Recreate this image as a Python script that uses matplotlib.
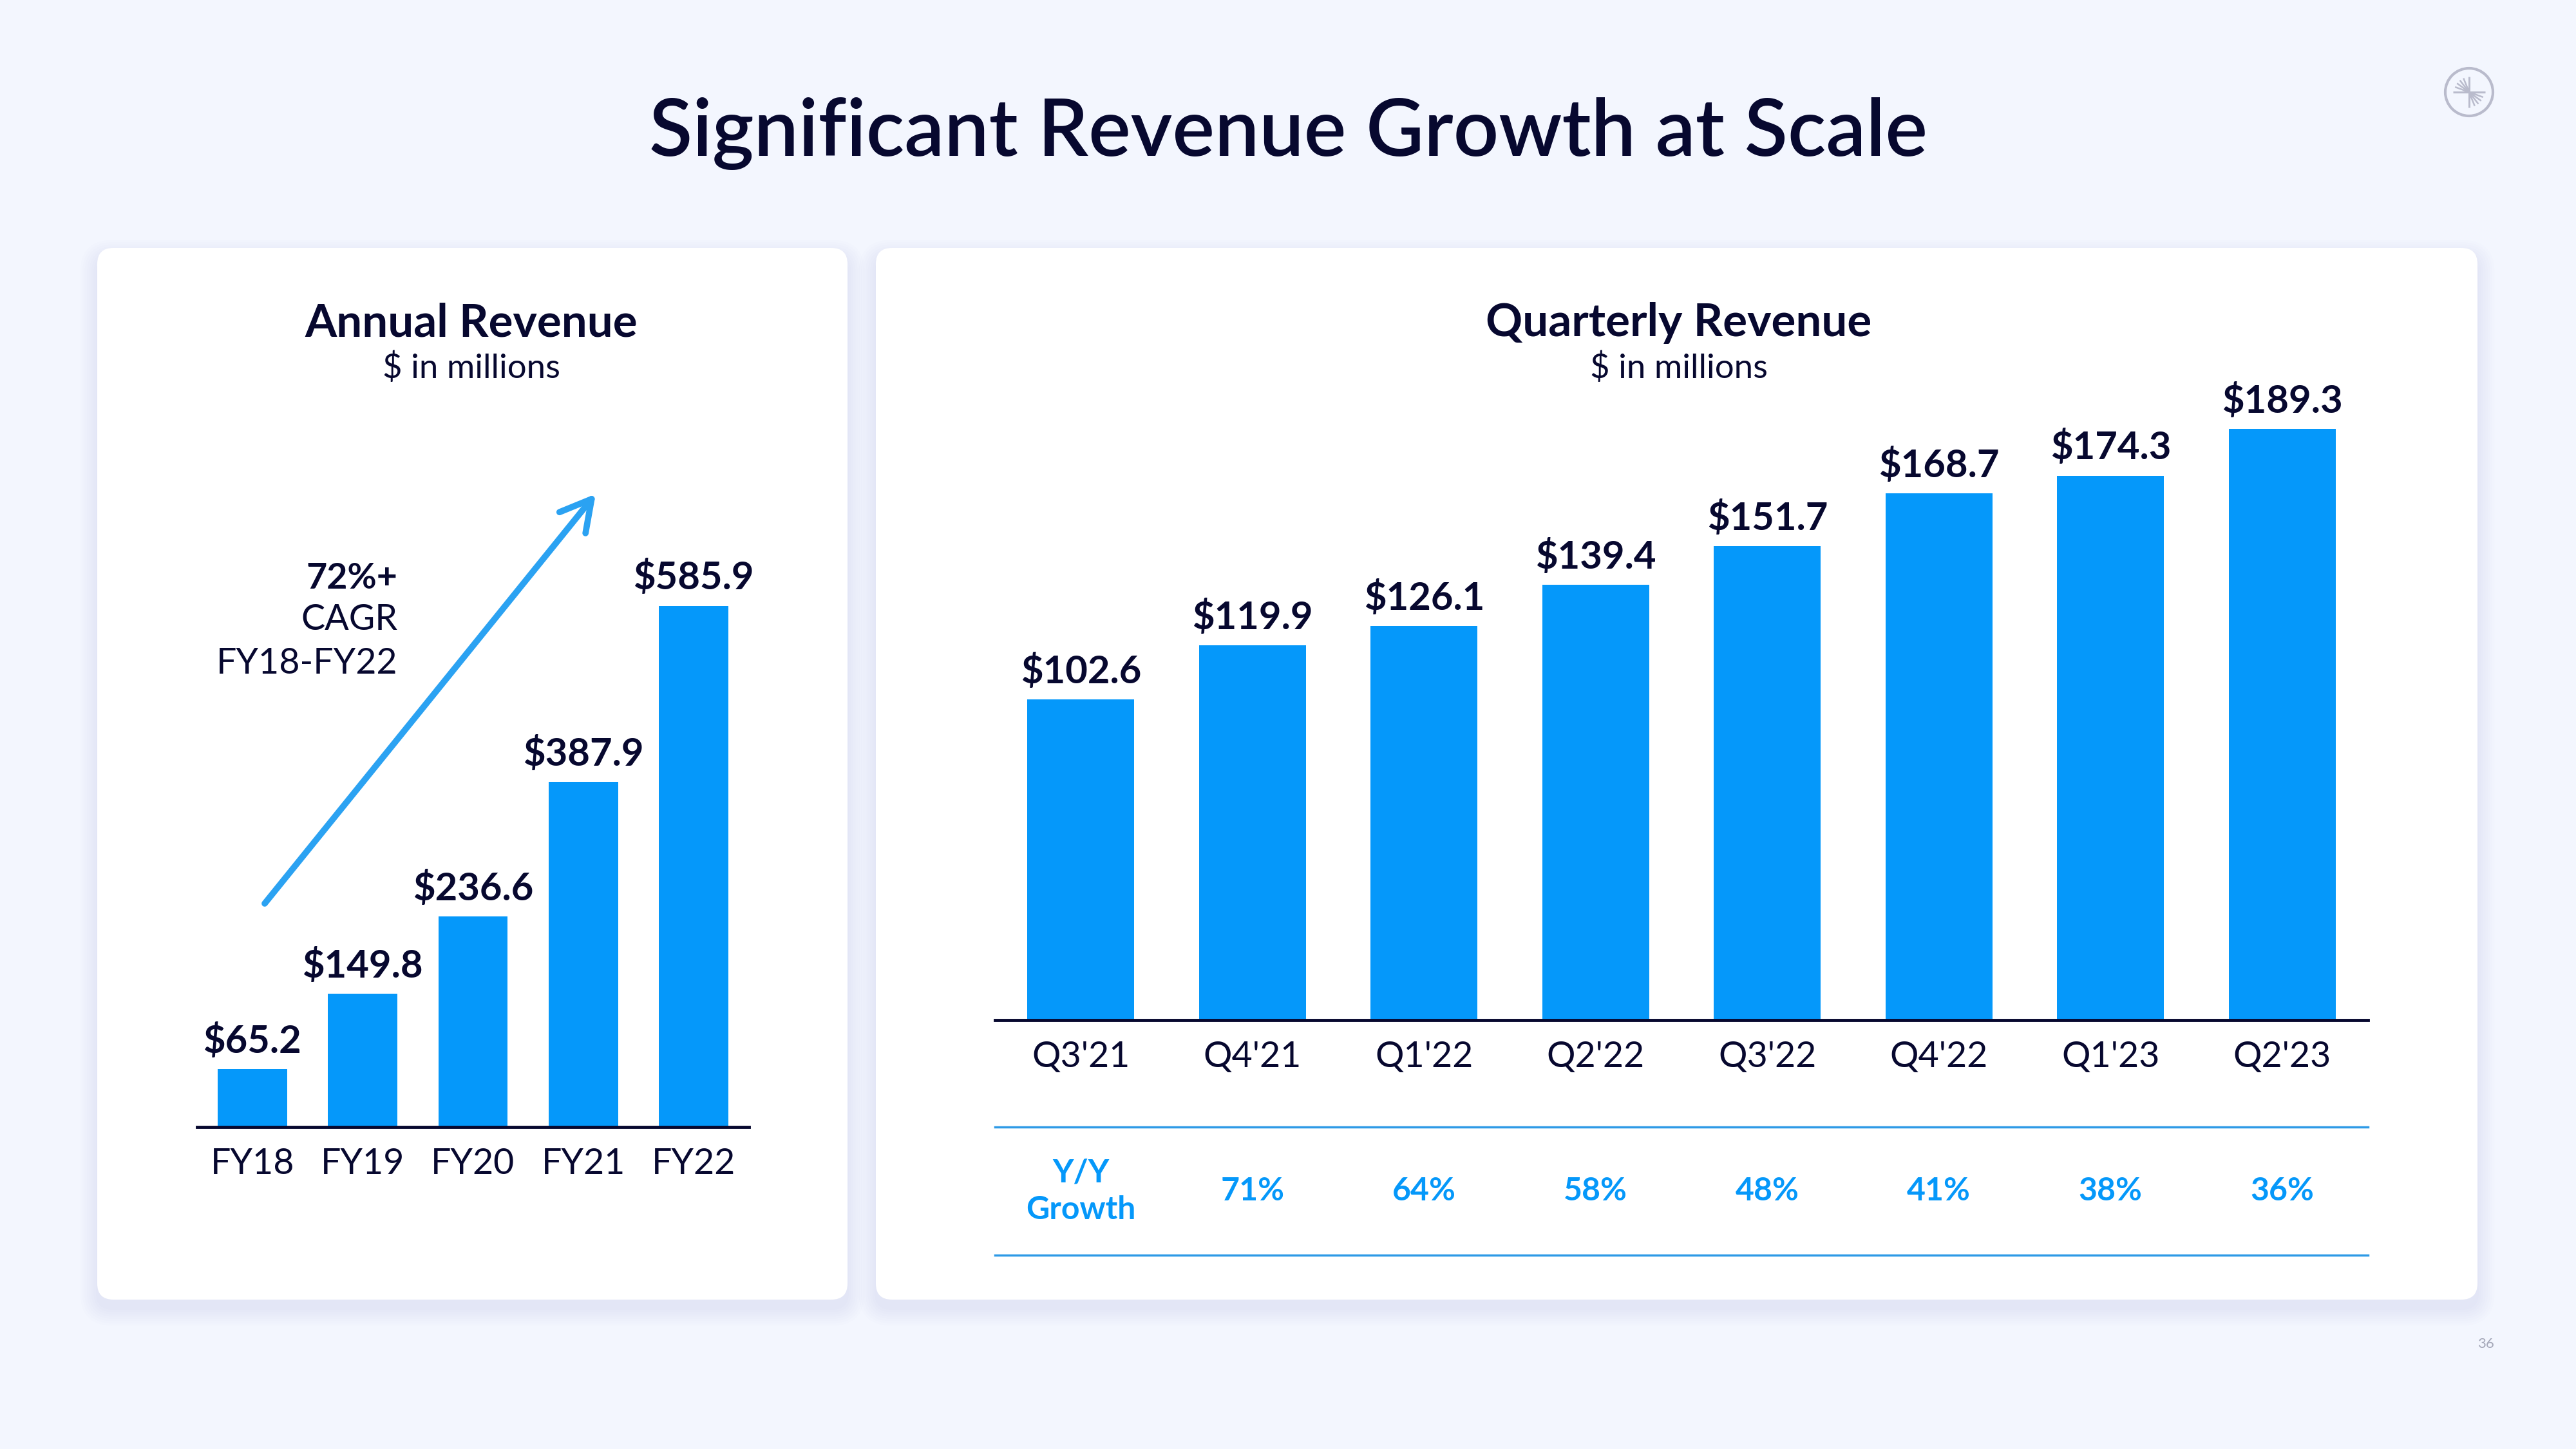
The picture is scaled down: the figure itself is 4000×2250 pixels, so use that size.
import matplotlib
matplotlib.use('Agg')
import matplotlib.pyplot as plt
from matplotlib.patches import FancyBboxPatch, Circle
import numpy as np

# ---------------- data ----------------
annual_years = ['FY18', 'FY19', 'FY20', 'FY21', 'FY22']
annual_revenue = [65.2, 149.8, 236.6, 387.9, 585.9]

quarters = ["Q3'21", "Q4'21", "Q1'22", "Q2'22", "Q3'22", "Q4'22", "Q1'23", "Q2'23"]
quarterly_revenue = [102.6, 119.9, 126.1, 139.4, 151.7, 168.7, 174.3, 189.3]

yoy_growth = [71, 64, 58, 48, 41, 38, 36]   # for Q4'21 ... Q2'23

cagr_lines = ['72%+', 'CAGR', 'FY18-FY22']

# ---------------- style ----------------
plt.rcParams['font.family'] = ['Lato', 'DejaVu Sans']
plt.rcParams['text.parse_math'] = False

BG = '#F3F6FE'
NAVY = '#07082F'
BLUE = '#0598FA'
ARROW = '#2BA2F2'
LINE = '#2E9AE6'
GRAY = '#B9BBCC'

W, H = 4000, 2250
fig = plt.figure(figsize=(40, 22.5), dpi=100, facecolor=BG)

bg = fig.add_axes([0, 0, 1, 1])
bg.set_xlim(0, W)
bg.set_ylim(H, 0)
bg.axis('off')
bg.set_zorder(0)


def panel(x0, y0, x1, y1):
    # soft shadow
    for i in range(8):
        g = 4 + i * 7
        bg.add_patch(FancyBboxPatch((x0 - g / 2, y0 - g / 2 + 14), x1 - x0 + g, y1 - y0 + g,
                                    boxstyle='round,pad=0,rounding_size=%d' % (25 + g / 2),
                                    fc='#A8B0D4', ec='none', alpha=0.022))
    bg.add_patch(FancyBboxPatch((x0, y0), x1 - x0, y1 - y0,
                                boxstyle='round,pad=0,rounding_size=25',
                                fc='white', ec='none'))


panel(151, 385, 1316, 2018)
panel(1360, 385, 3847, 2018)

# title
bg.text(2000, 207, 'Significant Revenue Growth at Scale', ha='center', va='center',
        fontsize=89, color=NAVY, fontweight='semibold')

# panel titles
bg.text(732, 502, 'Annual Revenue', ha='center', va='center', fontsize=51,
        fontweight='bold', color=NAVY)
bg.text(732, 571, '$ in millions', ha='center', va='center', fontsize=38,
        fontweight='normal', color=NAVY)
bg.text(2607, 502, 'Quarterly Revenue', ha='center', va='center', fontsize=51,
        fontweight='bold', color=NAVY)
bg.text(2607, 571, '$ in millions', ha='center', va='center', fontsize=38,
        fontweight='normal', color=NAVY)

# CAGR annotation
bg.text(617, 898, cagr_lines[0], ha='right', va='center', fontsize=40,
        fontweight='bold', color=NAVY)
bg.text(617, 962, cagr_lines[1], ha='right', va='center', fontsize=40,
        fontweight='normal', color=NAVY)
bg.text(617, 1030, cagr_lines[2], ha='right', va='center', fontsize=40,
        fontweight='normal', color=NAVY)

bg.annotate('', xy=(925, 767), xytext=(411, 1403),
            arrowprops=dict(arrowstyle='->,head_length=1.0,head_width=0.55',
                            mutation_scale=34, lw=7, color=ARROW,
                            capstyle='round', joinstyle='round',
                            shrinkA=0, shrinkB=0))

# logo
cx, cy = 3834, 143
bg.add_patch(Circle((cx, cy), 37, fill=False, lw=3.0, ec=GRAY))
bg.plot([cx, cx], [cy - 24, cy + 24], color=GRAY, lw=2.2, solid_capstyle='butt')
bg.plot([cx - 25, cx + 25], [cy, cy], color=GRAY, lw=2.2, solid_capstyle='butt')
for ang in [112, 128, 144, 160]:
    t = np.deg2rad(ang)
    bg.plot([cx + 3 * np.cos(t), cx + 22 * np.cos(t)],
            [cy - 3 * np.sin(t), cy - 22 * np.sin(t)], color=GRAY, lw=1.8)
for ang in [-20, -36, -52, -68]:
    t = np.deg2rad(ang)
    bg.plot([cx + 3 * np.cos(t), cx + 22 * np.cos(t)],
            [cy - 3 * np.sin(t), cy - 22 * np.sin(t)], color=GRAY, lw=1.8)

# page number
bg.text(3860, 2087, '36', ha='center', va='center', fontsize=16, color='#A4A7B8')


def style_axes(ax):
    for s in ['top', 'right', 'left']:
        ax.spines[s].set_visible(False)
    ax.spines['bottom'].set_color(NAVY)
    ax.spines['bottom'].set_linewidth(3.5)
    ax.set_facecolor('none')
    ax.set_yticks([])
    ax.tick_params(axis='x', length=0, pad=23, labelsize=40, labelcolor=NAVY)


# ---------------- annual chart ----------------
ax1 = fig.add_axes([306 / W, 1 - 1750 / H, 857 / W, 967 / H])
x1 = np.arange(len(annual_years))
b1 = ax1.bar(x1, annual_revenue, width=0.63, color=BLUE, zorder=2)
ax1.set_xlim(-0.5, len(annual_years) - 0.5)
ax1.set_ylim(0, 700)
ax1.set_xticks(x1)
ax1.set_xticklabels(annual_years)
style_axes(ax1)
ax1.bar_label(b1, labels=['$%.1f' % v for v in annual_revenue], padding=11,
              fontsize=43, fontweight='bold', color=NAVY)

# ---------------- quarterly chart ----------------
ax2 = fig.add_axes([1545 / W, 1 - 1584 / H, 2132 / W, 1067 / H])
x2 = np.arange(len(quarters))
b2 = ax2.bar(x2, quarterly_revenue, width=0.624, color=BLUE, zorder=2)
ax2.set_xlim(-0.5, len(quarters) - 0.5)
ax2.set_ylim(0, 220)
ax2.set_xticks(x2)
ax2.set_xticklabels(quarters)
style_axes(ax2)
ax2.bar_label(b2, labels=['$%.1f' % v for v in quarterly_revenue], padding=11,
              fontsize=43, fontweight='bold', color=NAVY)

# ---------------- growth row ----------------
ax3 = fig.add_axes([1545 / W, 1 - 1949 / H, 2132 / W, 199 / H])
ax3.set_xlim(-0.5, len(quarters) - 0.5)
ax3.set_ylim(0, 1)
ax3.axis('off')
ax3.axhline(1, color=LINE, lw=2.5, clip_on=False)
ax3.axhline(0, color=LINE, lw=2.5, clip_on=False)
ax3.text(0, 0.5, 'Y/Y\nGrowth', ha='center', va='center', fontsize=36,
         fontweight='bold', color=BLUE, linespacing=1.35)
for i, g in enumerate(yoy_growth):
    ax3.text(i + 1, 0.5, '%d%%' % g, ha='center', va='center', fontsize=36,
             fontweight='bold', color=BLUE)

fig.savefig('out.png', dpi=100, facecolor=BG)
